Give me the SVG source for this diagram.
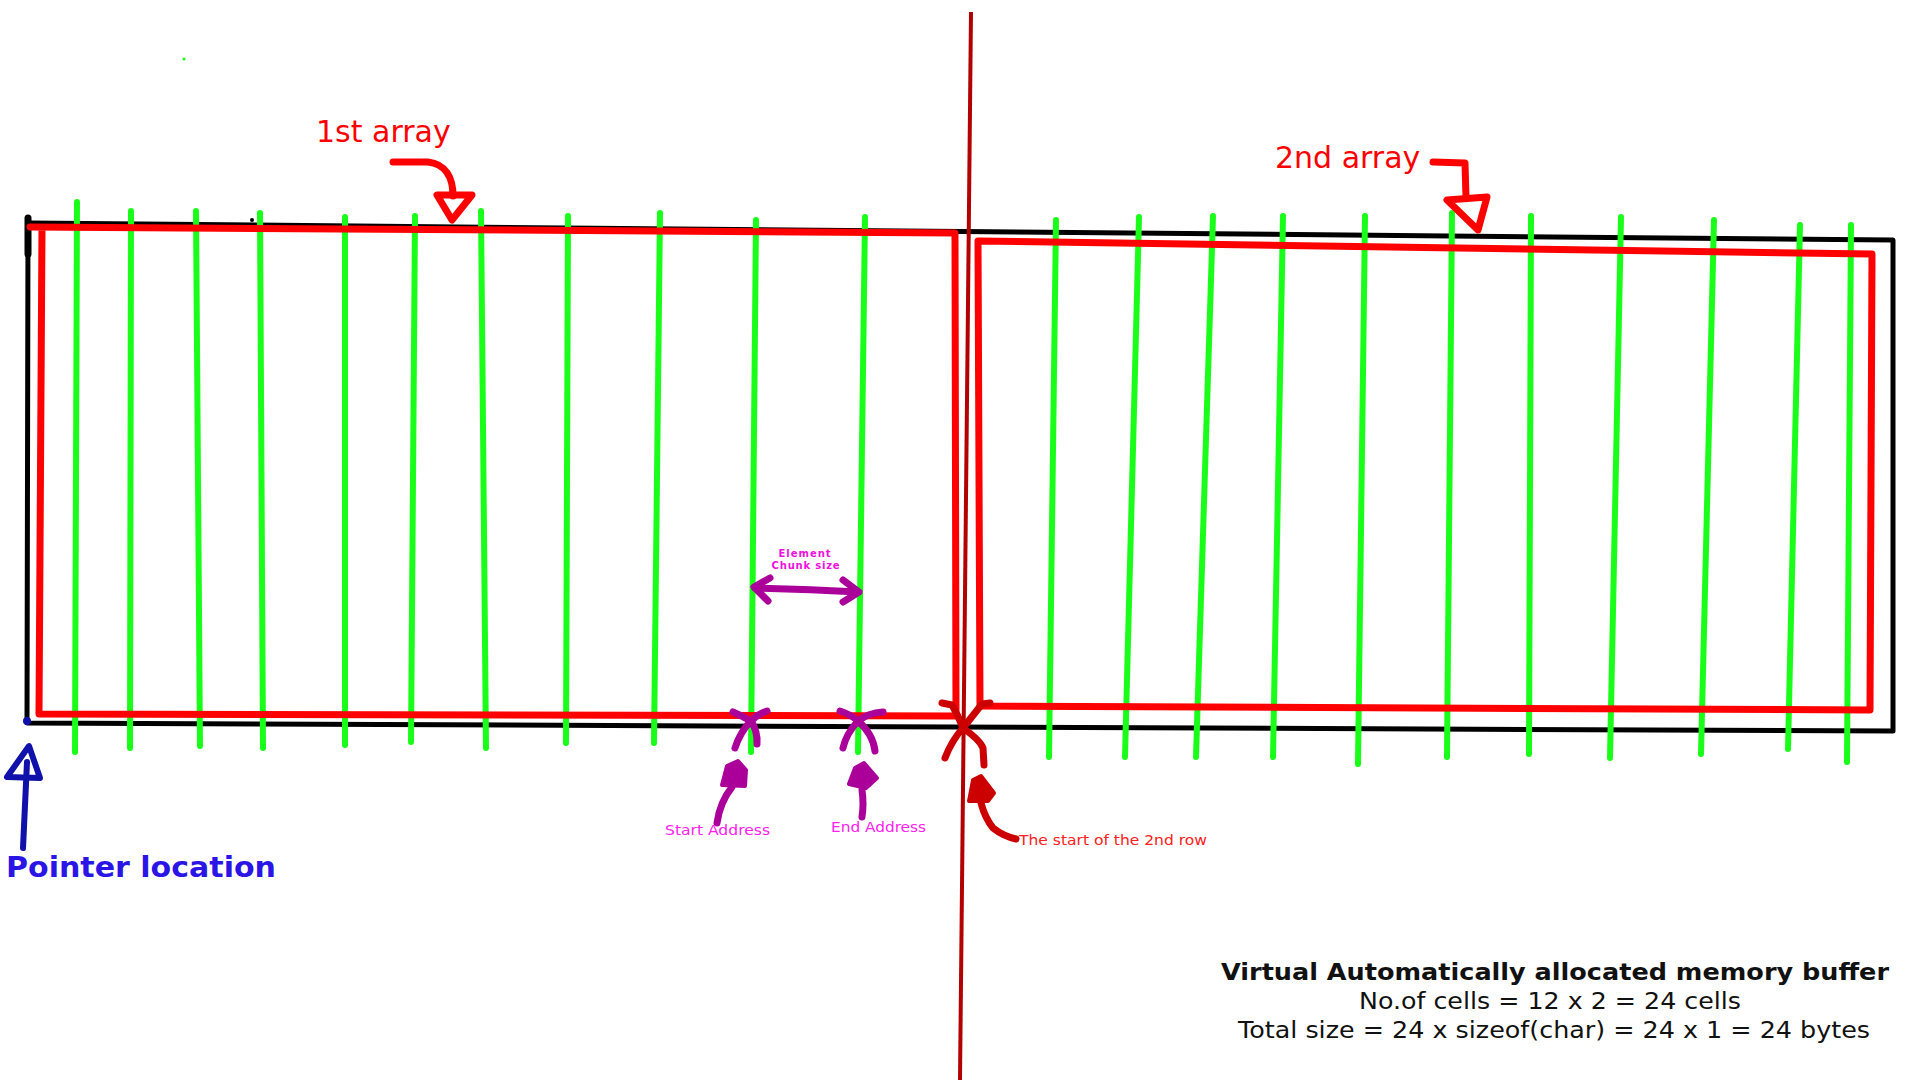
<svg xmlns="http://www.w3.org/2000/svg" width="1920" height="1080" viewBox="0 0 1920 1080">
<style>
.blk{fill:none;stroke:#000;stroke-width:5;stroke-linejoin:round;stroke-linecap:round}
.red{fill:none;stroke:#ff0000;stroke-width:7;stroke-linejoin:round;stroke-linecap:round}
.grn{fill:none;stroke:#1aff1a;stroke-width:6;stroke-linecap:round}
.pur{fill:none;stroke:#aa0099;stroke-width:7;stroke-linecap:round;stroke-linejoin:round}
.drd{fill:none;stroke:#cc0000;stroke-width:7;stroke-linecap:round;stroke-linejoin:round}
.blu{fill:none;stroke:#1010aa;stroke-width:6;stroke-linecap:round;stroke-linejoin:round}
text{font-family:"DejaVu Sans","Liberation Sans",sans-serif}
.lbl{fill:#ff0000;font-size:30px}
.mag{fill:#ff22ee;font-size:14px}
.note{fill:#111;font-size:23px;text-anchor:middle}
</style>
<rect width="1920" height="1080" fill="#fff"/>

<g id="buffer">
  <path class="blk" d="M28,223 L1893,240 L1893,731 L27,723 Z"/>
  <path d="M28,218 L28,254" stroke="#000" stroke-width="7" stroke-linecap="round"/>
  <circle cx="252" cy="220" r="2" fill="#000"/>
  <circle cx="184" cy="59" r="1.5" fill="#1aff1a"/>
</g>

<g id="cells">
  <path class="grn" d="M77,202 L75,752"/>
  <path class="grn" d="M131,211 L130,748"/>
  <path class="grn" d="M196,211 L200,746"/>
  <path class="grn" d="M260,213 L263,748"/>
  <path class="grn" d="M345,217 L345,745"/>
  <path class="grn" d="M415,216 L411,742"/>
  <path class="grn" d="M481,211 L486,748"/>
  <path class="grn" d="M568,216 L566,743"/>
  <path class="grn" d="M660,213 L654,743"/>
  <path class="grn" d="M756,220 L751,752"/>
  <path class="grn" d="M865,217 L858,752"/>
  <path class="grn" d="M1056,220 L1049,757"/>
  <path class="grn" d="M1139,217 L1125,757"/>
  <path class="grn" d="M1213,216 L1196,757"/>
  <path class="grn" d="M1283,216 L1273,757"/>
  <path class="grn" d="M1365,216 L1358,764"/>
  <path class="grn" d="M1452,213 L1447,757"/>
  <path class="grn" d="M1531,216 L1529,754"/>
  <path class="grn" d="M1621,217 L1610,758"/>
  <path class="grn" d="M1714,220 L1701,754"/>
  <path class="grn" d="M1800,225 L1788,749"/>
  <path class="grn" d="M1851,225 L1847,762"/>
</g>

<g id="array1">
  <path class="red" d="M30,227 L955,233 L956,716 L39,714 L42,228"/>
</g>
<g id="array2">
  <path class="red" d="M978,241 L1872,254 L1870,710 L980,706 Z"/>
</g>

<g id="divider">
  <path d="M971,12 L960,1080" stroke="#b30000" stroke-width="4" fill="none"/>
</g>

<g id="label-1st">
  <text class="lbl" x="316" y="142">1st array</text>
</g>
<g id="label-2nd">
  <text class="lbl" x="1275" y="168">2nd array</text>
</g>

<g id="connectors">
  <path class="red" d="M393,162 L428,162 C446,164 453,178 453,196"/>
  <path class="red" d="M437,195 L472,195 L452,220 Z"/>
  <path class="red" d="M1433,162 L1465,163 L1466,198"/>
  <path class="red" d="M1447,200 L1487,197 L1478,230 Z"/>

  <path class="blu" d="M23,848 L27,762"/>
  <path class="blu" d="M7,777 L40,778 L29,746 Z"/>
  <circle cx="27" cy="721" r="4" fill="#1010aa"/>

  <path class="pur" d="M755,588 Q808,589 858,592"/>
  <path class="pur" d="M770,578 L754,587 L768,601"/>
  <path class="pur" d="M843,580 L859,592 L843,602"/>

  <path class="pur" d="M733,712 Q742,716 751,721 Q758,714 767,711"/>
  <path class="pur" d="M751,721 Q740,732 735,748"/>
  <path class="pur" d="M751,721 Q758,732 757,744"/>
  <path class="pur" d="M840,711 Q850,714 858,721 Q868,713 883,712"/>
  <path class="pur" d="M858,721 Q846,734 843,748"/>
  <path class="pur" d="M858,721 Q873,734 875,751"/>

  <path d="M722,785 L727,766 L738,761 L746,770 L745,786 Z" fill="#aa0099" stroke="#aa0099" stroke-width="4" stroke-linejoin="round"/>
  <path class="pur" d="M732,787 Q720,802 717,823"/>
  <path d="M849,784 L855,768 L864,763 L877,778 L866,788 Z" fill="#aa0099" stroke="#aa0099" stroke-width="4" stroke-linejoin="round"/>
  <path class="pur" d="M862,790 Q864,804 862,817"/>

  <path class="drd" d="M942,703 L952,705 Q958,715 963,728 L982,704 L990,703"/>
  <path class="drd" d="M963,728 Q952,740 945,758"/>
  <path class="drd" d="M963,728 Q980,740 983,748 L984,765"/>

  <path d="M969,801 L973,780 L981,776 L994,793 L988,801 Z" fill="#cc0000" stroke="#cc0000" stroke-width="4" stroke-linejoin="round"/>
  <path class="drd" d="M981,803 Q985,818 993,828 Q1003,836 1016,839"/>
</g>

<g id="chunk-label">
  <text x="805" y="557" fill="#ee11dd" font-size="10" font-weight="bold" text-anchor="middle" letter-spacing="1">Element</text>
  <text x="806" y="569" fill="#ee11dd" font-size="10" font-weight="bold" text-anchor="middle" letter-spacing="0.8">Chunk size</text>
</g>
<g id="start-label">
  <text class="mag" x="665" y="835" textLength="105" lengthAdjust="spacingAndGlyphs">Start Address</text>
</g>
<g id="end-label">
  <text class="mag" x="831" y="832" textLength="95" lengthAdjust="spacingAndGlyphs">End Address</text>
</g>
<g id="row2-label">
  <text x="1019" y="845" fill="#ff2020" font-size="14" textLength="188" lengthAdjust="spacingAndGlyphs">The start of the 2nd row</text>
</g>
<g id="pointer-label">
  <text x="6" y="877" fill="#2a14e6" font-size="28" font-weight="bold" textLength="270" lengthAdjust="spacingAndGlyphs">Pointer location</text>
</g>
<g id="summary">
  <text class="note" x="1555" y="980" font-weight="bold" textLength="668" lengthAdjust="spacingAndGlyphs">Virtual Automatically allocated memory buffer</text>
  <text class="note" x="1550" y="1009" textLength="382" lengthAdjust="spacingAndGlyphs">No.of cells = 12 x 2 = 24 cells</text>
  <text class="note" x="1554" y="1038" textLength="632" lengthAdjust="spacingAndGlyphs">Total size = 24 x sizeof(char) = 24 x 1 = 24 bytes</text>
</g>
</svg>
